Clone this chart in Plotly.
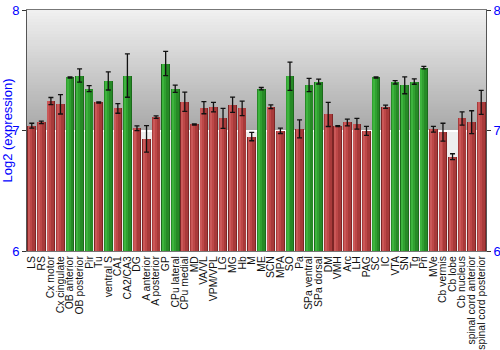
import plotly.graph_objects as go

regions = [
    "LS", "RS", "Cx motor", "Cx cingulate", "OB anterior", "OB posterior", "Pir", "Tu",
    "ventral S", "CA1", "CA2/CA3", "DG", "A anterior", "A posterior", "GP", "CPu lateral",
    "CPu medial", "MD", "VA/VL", "VPM/VPL", "LG", "MG", "Hb", "M", "ME", "SCN", "MPA",
    "SO", "Pa", "SPa ventral", "SPa dorsal", "DM", "VMH", "Arc", "LH", "PAG", "SC", "IC",
    "VTA", "SN", "Tg", "Pn", "MVe", "Cb vermis", "Cb lobe", "Cb nucleus",
    "spinal cord anterior", "spinal cord posterior",
]
expression = [
    7.04, 7.067, 7.244, 7.217, 7.44, 7.456, 7.347, 7.233,
    7.411, 7.183, 7.456, 7.019, 6.93, 7.111, 7.556, 7.347,
    7.239, 7.05, 7.189, 7.194, 7.10, 7.214, 7.183, 6.95, 7.347, 7.197, 6.997,
    7.45, 7.014, 7.378, 7.406, 7.133, 7.036, 7.067, 7.056, 6.997, 7.44, 7.197,
    7.40, 7.375, 7.406, 7.522, 7.011, 6.986, 6.783, 7.10,
    7.069, 7.233,
]
error = [
    0.02, 0.01, 0.03, 0.08, 0.005, 0.055, 0.025, 0.005,
    0.075, 0.04, 0.18, 0.02, 0.11, 0.01, 0.10, 0.03,
    0.08, 0.005, 0.05, 0.04, 0.083, 0.063, 0.06, 0.035, 0.01, 0.015, 0.022,
    0.117, 0.075, 0.055, 0.02, 0.10, 0.004, 0.028, 0.045, 0.038, 0.005, 0.014,
    0.014, 0.07, 0.022, 0.01, 0.024, 0.074, 0.024, 0.055,
    0.095, 0.10,
]
enriched = {
    "OB anterior", "OB posterior", "Pir", "ventral S", "CA2/CA3", "GP", "CPu lateral",
    "ME", "SO", "SPa ventral", "SPa dorsal", "SC", "VTA", "SN", "Tg", "Pn",
}

# shading layers for a cylindrical look: (width, offset, red shade, green shade)
shades = [
    (0.90, -0.45, "#7c2525", "#1b6a1b"),
    (0.78, -0.42, "#a83a3a", "#268a26"),
    (0.42, -0.37, "#bd4747", "#30a030"),
    (0.16, -0.31, "#ca5858", "#3db43d"),
]

idx = list(range(len(regions)))
fig = go.Figure()

for w, off, red, green in shades:
    fig.add_trace(go.Bar(
        x=idx, y=[v - 6 for v in expression], base=6,
        width=w, offset=off,
        marker=dict(color=[green if r in enriched else red for r in regions], line=dict(width=0)),
        hoverinfo="skip", showlegend=False,
    ))

fig.add_trace(go.Scatter(
    x=idx, y=expression, mode="markers",
    marker=dict(size=1, opacity=0),
    error_y=dict(type="data", array=error, visible=True, color="#111111", thickness=1.3, width=2.5),
    showlegend=False,
))

# right-hand copy of the value axis
fig.add_trace(go.Scatter(x=[0], y=[7], yaxis="y2", mode="markers",
                         marker=dict(opacity=0), showlegend=False, hoverinfo="skip"))

# vertical gray gradient behind the bars above 7, light fill below
shapes = [dict(type="rect", xref="paper", yref="y", x0=0, x1=1, y0=6, y1=8,
               fillcolor="#eeeeee", line=dict(width=0), layer="below")]
steps = 40
top_c, bot_c = 0xf1, 0xa8
for i in range(steps):
    y0 = 7 + i / steps
    y1 = min(8, 7 + (i + 1.6) / steps)
    g = int(bot_c + (top_c - bot_c) * (i + 0.5) / steps)
    shapes.append(dict(type="rect", xref="paper", yref="y", x0=0, x1=1, y0=y0, y1=y1,
                       fillcolor=f"rgb({g},{g},{g})", line=dict(width=0), layer="below"))

fig.update_layout(
    width=500, height=350,
    margin=dict(l=27, r=14, t=10, b=99),
    paper_bgcolor="white", plot_bgcolor="white",
    barmode="overlay", bargap=0,
    shapes=shapes,
    font=dict(family="Liberation Sans, Arial, sans-serif"),
    xaxis=dict(
        tickmode="array", tickvals=idx, ticktext=regions, tickangle=-90,
        tickfont=dict(size=10.4, color="#111111"),
        range=[-0.5, len(regions) - 0.5],
        showgrid=False, zeroline=False, ticks="", automargin=False,
        showline=True, linecolor="#777777", linewidth=1, mirror=True,
    ),
    yaxis=dict(
        range=[6, 8], tickvals=[6, 7, 8], ticks="outside", ticklen=4, tickcolor="#333333",
        tickfont=dict(size=13, color="#0000ff"), automargin=False,
        title=dict(text="Log2 (expression)", font=dict(size=13, color="#0000ff")),
        showgrid=True, gridcolor="white", gridwidth=1.5, zeroline=False,
        showline=True, linecolor="#555555", linewidth=1,
    ),
    yaxis2=dict(
        range=[6, 8], tickvals=[6, 7, 8], overlaying="y", side="right",
        ticks="outside", ticklen=4, tickcolor="#333333", automargin=False,
        tickfont=dict(size=13, color="#0000ff"),
        showgrid=False, zeroline=False,
        showline=True, linecolor="#555555", linewidth=1,
    ),
)

fig.write_html("out.html")
